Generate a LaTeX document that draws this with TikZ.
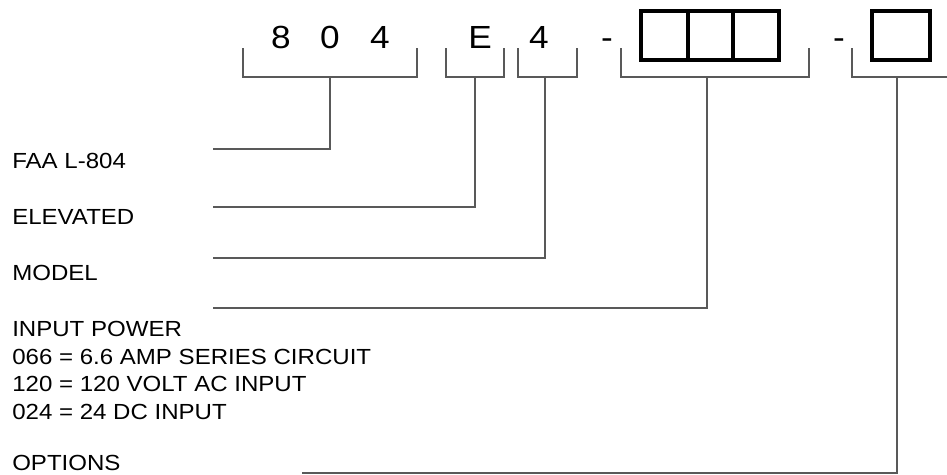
\documentclass[tikz,border=0pt]{standalone}
\usepackage{fontspec}
\setmainfont{Liberation Sans}[FakeStretch=1.1]
\usetikzlibrary{positioning}

\begin{document}
\begin{tikzpicture}[x=0.75pt, y=-0.75pt,
    lbl/.style={anchor=north west, inner sep=0pt, align=left, font=\fontsize{16.4}{20.7}\selectfont},
    dig/.style={anchor=base, inner sep=0pt, font=\fontsize{24}{28}\selectfont},
    brk/.style={draw=black!65, line width=1pt},
    cell/.style={draw=black, line width=3pt}]
        \useasboundingbox (0,0) rectangle (947,475);
        % code characters
        \node[dig] (d8) at (281,48) {8};
        \node[dig] (d0) at (330,48) {0};
        \node[dig] (d4) at (380,48) {4};
        \node[dig] (dE) at (480,48) {E};
        \node[dig] (dM) at (539,48) {4};
        \node[dig] (dashA) at (607,48) {-};
        \node[dig] (dashB) at (839,48) {-};
        % empty cells
        \draw[cell] (641,11) rectangle (779,60);
        \draw[cell] (688,11) -- (688,60);
        \draw[cell] (733,11) -- (733,60);
        \draw[cell] (872,11) rectangle (930,60);
        % brackets
        \draw[brk] (243,48) |- (417,77) -- (417,48);
        \draw[brk] (446,48) |- (504,77) -- (504,48);
        \draw[brk] (518,48) |- (577,77) -- (577,48);
        \draw[brk] (621,48) |- (809,77) -- (809,48);
        \draw[brk] (852,48) |- (947,77);
        \coordinate (s804) at (330,77);
        \coordinate (sE) at (475,77);
        \coordinate (sM) at (545,77);
        \coordinate (sIn) at (707,77);
        \coordinate (sOpt) at (897,77);
        % labels
        \node[lbl] (faa) at (12,153) {FAA L-804};
        \node[lbl] (elev) at (12,209) {ELEVATED};
        \node[lbl] (model) at (12,265) {MODEL};
        \node[lbl] (power) at (12,321) {INPUT POWER\\066 = 6.6 AMP SERIES CIRCUIT\\120 = 120 VOLT AC INPUT\\024 = 24 DC INPUT};
        \node[lbl] (opt) at (12,455) {OPTIONS};
        \coordinate (eFaa) at (213,149);
        \coordinate (eElev) at (213,207);
        \coordinate (eModel) at (213,258);
        \coordinate (ePower) at (213,308);
        \coordinate (eOpt) at (302,473);
        % leaders
        \draw[brk] (s804) |- (eFaa);
        \draw[brk] (sE) |- (eElev);
        \draw[brk] (sM) |- (eModel);
        \draw[brk] (sIn) |- (ePower);
        \draw[brk] (sOpt) |- (eOpt);
      \end{tikzpicture}
\end{document}
